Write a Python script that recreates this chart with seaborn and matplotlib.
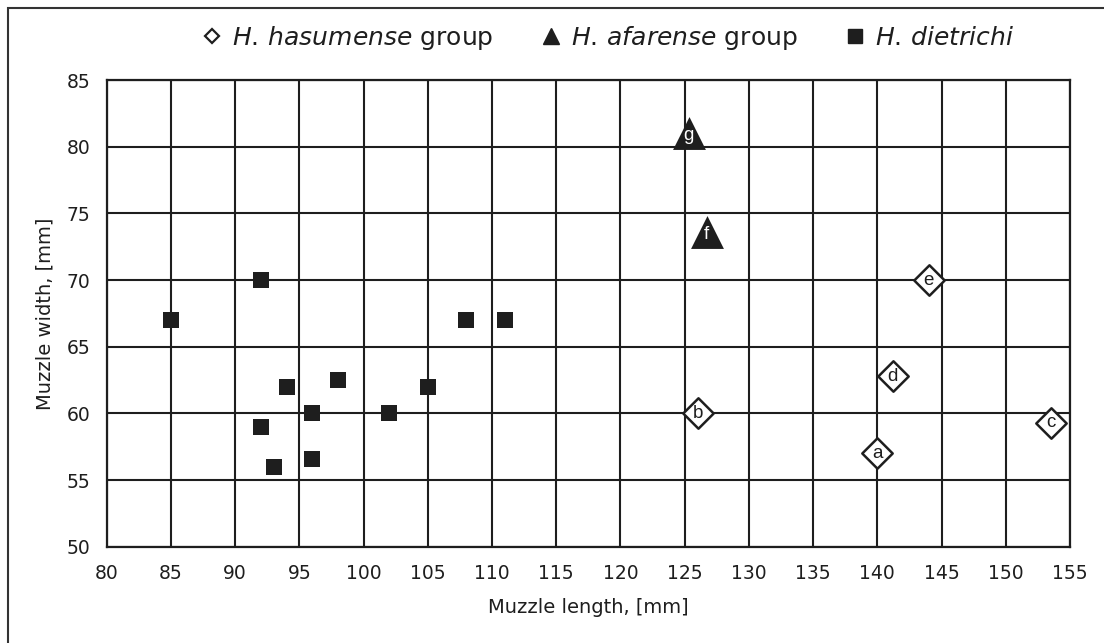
import matplotlib
matplotlib.use("Agg")
import matplotlib.pyplot as plt
import seaborn as sns
import pandas as pd
from matplotlib.lines import Line2D
from matplotlib.patches import Rectangle

# Muzzle measurements (mm)
hasumense_len = [140.0, 126.0, 153.5, 141.2, 144.0]
hasumense_wid = [57.0, 60.0, 59.3, 62.8, 70.0]
hasumense_ids = ["a", "b", "c", "d", "e"]

afarense_len = [126.7, 125.3]
afarense_wid = [73.6, 81.0]
afarense_ids = ["f", "g"]

dietrichi_len = [85, 92, 92, 93, 94, 96, 96, 98, 102, 105, 108, 111]
dietrichi_wid = [67, 70, 59, 56, 62, 60, 56.6, 62.5, 60, 62, 67, 67]

x_ticks = list(range(80, 156, 5))
y_ticks = list(range(50, 86, 5))

sns.set_style("white")
plt.rcParams["font.family"] = ["DejaVu Sans"]
plt.rcParams["mathtext.fontset"] = "dejavusans"

INK = "#1e1e1e"

hasu = pd.DataFrame({"length": hasumense_len, "width": hasumense_wid, "id": hasumense_ids})
afar = pd.DataFrame({"length": afarense_len, "width": afarense_wid, "id": afarense_ids})
diet = pd.DataFrame({"length": dietrichi_len, "width": dietrichi_wid})

fig = plt.figure(figsize=(11.04, 6.43), dpi=100)
fig.patch.set_facecolor("white")
ax = fig.add_axes([0.09665, 0.14977, 0.87255, 0.7258])

sns.scatterplot(data=diet, x="length", y="width", marker="s", s=135,
                color=INK, edgecolor=INK, linewidth=0, ax=ax, zorder=3)
sns.scatterplot(data=afar, x="length", y="width", marker="^", s=560,
                color=INK, edgecolor=INK, linewidth=0, ax=ax, zorder=3)
sns.scatterplot(data=hasu, x="length", y="width", marker="D", s=240,
                facecolor="white", edgecolor=INK, linewidth=1.8, ax=ax, zorder=3)

for _, r in hasu.iterrows():
    ax.text(r["length"], r["width"], r["id"], ha="center", va="center",
            fontsize=13.5, color=INK, family="Liberation Sans", zorder=4)
for _, r in afar.iterrows():
    ax.text(r["length"], r["width"] - 0.15, r["id"], ha="center", va="center",
            fontsize=13.5, color="white", family="Liberation Sans", zorder=4)

ax.set_xlim(80, 155)
ax.set_ylim(50, 85)
ax.set_xticks(x_ticks)
ax.set_yticks(y_ticks)
ax.grid(True, color=INK, linewidth=1.5)
ax.set_axisbelow(True)
for sp in ax.spines.values():
    sp.set_color(INK)
    sp.set_linewidth(1.6)
ax.tick_params(axis="both", which="major", length=4.5, width=1.0, color="#8a8a8a",
               labelsize=13.5, labelcolor=INK)
ax.tick_params(axis="x", pad=8)
ax.tick_params(axis="y", pad=7)
ax.set_xlabel("Muzzle length, [mm]", fontsize=14, color=INK, labelpad=11)
ax.set_ylabel("Muzzle width, [mm]", fontsize=14, color=INK, labelpad=9)

handles = [
    Line2D([], [], linestyle="none", marker="D", markersize=7.6,
           markerfacecolor="white", markeredgecolor=INK, markeredgewidth=1.6),
    Line2D([], [], linestyle="none", marker="^", markersize=11,
           markerfacecolor=INK, markeredgecolor=INK),
    Line2D([], [], linestyle="none", marker="s", markersize=10.5,
           markerfacecolor=INK, markeredgecolor=INK),
]
labels = [r"$\mathit{H.\,hasumense}$ group",
          r"$\mathit{H.\,afarense}$ group",
          r"$\mathit{H.\,dietrichi}$"]
fig.legend(handles, labels, loc="center", bbox_to_anchor=(608 / 1104, 1 - 38 / 643),
           ncol=3, frameon=False, fontsize=18, handlelength=0.8,
           handletextpad=0.4, columnspacing=1.9, labelcolor=INK)

fig.add_artist(Rectangle((8 / 1104, -0.1), 1.2, 1.1 - 8 / 643,
                         transform=fig.transFigure, fill=False,
                         linewidth=1.5, edgecolor="#333333", clip_on=False))

fig.savefig("out.png", dpi=100, facecolor="white")
